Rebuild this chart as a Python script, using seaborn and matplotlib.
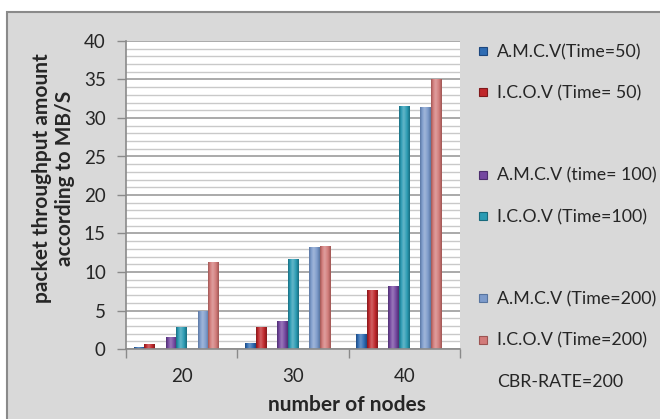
import numpy as np
import pandas as pd
import matplotlib
matplotlib.use("Agg")
import matplotlib.pyplot as plt
import seaborn as sns
from matplotlib.colors import LinearSegmentedColormap, to_rgb
from matplotlib.patches import Rectangle
from matplotlib.lines import Line2D
from matplotlib.ticker import MultipleLocator

# ---- data -------------------------------------------------------------
nodes = ["20", "30", "40"]
amcv_t50 = [0.3, 0.8, 1.9]
icov_t50 = [0.6, 2.9, 7.6]
amcv_t100 = [1.5, 3.6, 8.2]
icov_t100 = [2.9, 11.7, 31.5]
amcv_t200 = [5.0, 13.2, 31.4]
icov_t200 = [11.3, 13.4, 35.0]

series_names = [
    "A.M.C.V(Time=50)", "I.C.O.V (Time= 50)",
    "A.M.C.V (time= 100)", "I.C.O.V (Time=100)",
    "A.M.C.V (Time=200)", "I.C.O.V (Time=200)",
]
series_values = [amcv_t50, icov_t50, amcv_t100, icov_t100, amcv_t200, icov_t200]
rate_note = "CBR-RATE=200"   # empty series, shown only as a legend caption

y_ticks = [0, 5, 10, 15, 20, 25, 30, 35, 40]

# ---- styling ----------------------------------------------------------
base_colors = ["#2f6cb3", "#c0272b", "#7447a0", "#2a9bb4", "#7d9bcb", "#d27b7a"]
dark_colors = ["#1c477e", "#80191b", "#4c2d6d", "#186a7c", "#57749f", "#9c5452"]

# spacer levels keep the pairs apart inside each node group
spacer_a, spacer_b = "_spacer_a", "_spacer_b"
hue_order = [series_names[0], series_names[1], spacer_a,
             series_names[2], series_names[3], spacer_b,
             series_names[4], series_names[5], rate_note]
palette = {n: c for n, c in zip(series_names, base_colors)}
palette.update({spacer_a: "#ffffff", spacer_b: "#ffffff", rate_note: "#ffffff"})

rows = []
for name, vals in zip(series_names, series_values):
    for n, v in zip(nodes, vals):
        rows.append({"nodes": n, "series": name, "throughput": v})
df = pd.DataFrame(rows)

sns.set_style("white")
plt.rcParams["font.family"] = ["Lato", "DejaVu Sans"]
text_color = "#262626"

W, H = 660, 419
fig = plt.figure(figsize=(W / 100, H / 100), dpi=100, facecolor="white")

# grey chart area with a thin border
fig.patches.append(Rectangle((7 / W, -0.01), 1.02, (H - 12) / H + 0.01,
                             transform=fig.transFigure, facecolor="#d9d9d9",
                             edgecolor="#8a8a8a", linewidth=1.5, zorder=-5))

ax = fig.add_axes([126 / W, 1 - 349 / H, (460 - 126) / W, (349 - 41) / H])
ax.set_facecolor("white")

sns.barplot(data=df, x="nodes", y="throughput", hue="series", order=nodes,
            hue_order=hue_order, palette=palette, width=0.86,
            errorbar=None, legend=False, linewidth=0, ax=ax)


def cylinder_cmap(base, dark):
    b = np.array(to_rgb(base))
    d = np.array(to_rgb(dark))
    light = b + (1 - b) * 0.28
    return LinearSegmentedColormap.from_list(
        "cyl", [(0.0, d), (0.18, b), (0.42, light), (0.75, b), (1.0, d)])


cmaps = {n: cylinder_cmap(b, d) for n, b, d in zip(series_names, base_colors, dark_colors)}
rgb_to_name = {to_rgb(c): n for n, c in zip(series_names, base_colors)}

grad = np.linspace(0, 1, 64)[None, :]
for bar in list(ax.patches):
    h = bar.get_height()
    if not np.isfinite(h) or h <= 0:
        continue
    fc = bar.get_facecolor()[:3]
    key = min(rgb_to_name, key=lambda c: sum((a - b) ** 2 for a, b in zip(c, fc)))
    name = rgb_to_name[key]
    x0, w = bar.get_x(), bar.get_width()
    im = ax.imshow(grad, cmap=cmaps[name], extent=[x0, x0 + w, 0, h],
                   aspect="auto", interpolation="bicubic",
                   zorder=bar.get_zorder() + 0.1)
    im.set_clip_path(bar)

# axes limits, grid and ticks
ax.set_xlim(-0.5, 2.5)
ax.set_ylim(0, 40)
ax.set_aspect("auto")
ax.set_yticks(y_ticks)
ax.yaxis.set_minor_locator(MultipleLocator(1))
ax.grid(False)
ax.grid(which="minor", axis="y", color="#c9c9c9", linewidth=1.0)
ax.grid(which="major", axis="y", color="#9c9c9c", linewidth=1.2)
ax.set_axisbelow(True)

ax.set_xticks([-0.5, 0.5, 1.5, 2.5])
ax.set_xticklabels([])
ax.set_xticks([0, 1, 2], minor=True)
ax.set_xticklabels(nodes, minor=True)
ax.tick_params(axis="x", which="major", direction="out", length=6.5,
               width=1, color="#8a8a8a", bottom=True)
ax.tick_params(axis="x", which="minor", length=0, pad=14,
               labelsize=13.5, labelcolor=text_color, bottom=True)
ax.tick_params(axis="y", which="major", direction="out", length=6.5,
               width=1, color="#8a8a8a", pad=8, labelsize=13.5,
               labelcolor=text_color, left=True)
ax.tick_params(axis="y", which="minor", length=0)

for side in ("top", "right"):
    ax.spines[side].set_visible(False)
for side in ("left", "bottom"):
    ax.spines[side].set_color("#8a8a8a")
    ax.spines[side].set_linewidth(1.2)

ax.set_ylabel("packet throughput amount\naccording to MB/S", fontsize=15,
              fontweight="bold", color=text_color, linespacing=1.2)
ax.yaxis.set_label_coords(-0.217, 0.555)
ax.yaxis.label.set_va("center")
ax.set_xlabel("number of nodes", fontsize=15, fontweight="bold", color=text_color)
ax.xaxis.set_label_coords(0.66, -0.182)
ax.xaxis.label.set_va("center")

# legend: six series with spacer rows, then the rate caption
handles, labels = [], []
for name in hue_order:
    if name in series_names:
        i = series_names.index(name)
        handles.append(Line2D([], [], ls="none", marker="s", markersize=6,
                              markerfacecolor=base_colors[i],
                              markeredgecolor=dark_colors[i], markeredgewidth=0.8))
        labels.append(name)
    elif name == rate_note:
        handles.append(Line2D([], [], ls="none"))
        labels.append(name)
    else:
        handles.append(Line2D([], [], ls="none"))
        labels.append(" ")

fig.legend(handles, labels, loc="upper left", bbox_to_anchor=(478 / W, 1 - 44 / H),
           frameon=False, fontsize=12.8, labelcolor=text_color,
           handlelength=0.6, handletextpad=0.45, labelspacing=1.415,
           borderpad=0, borderaxespad=0)

fig.savefig("out.png", dpi=100, facecolor="white")
